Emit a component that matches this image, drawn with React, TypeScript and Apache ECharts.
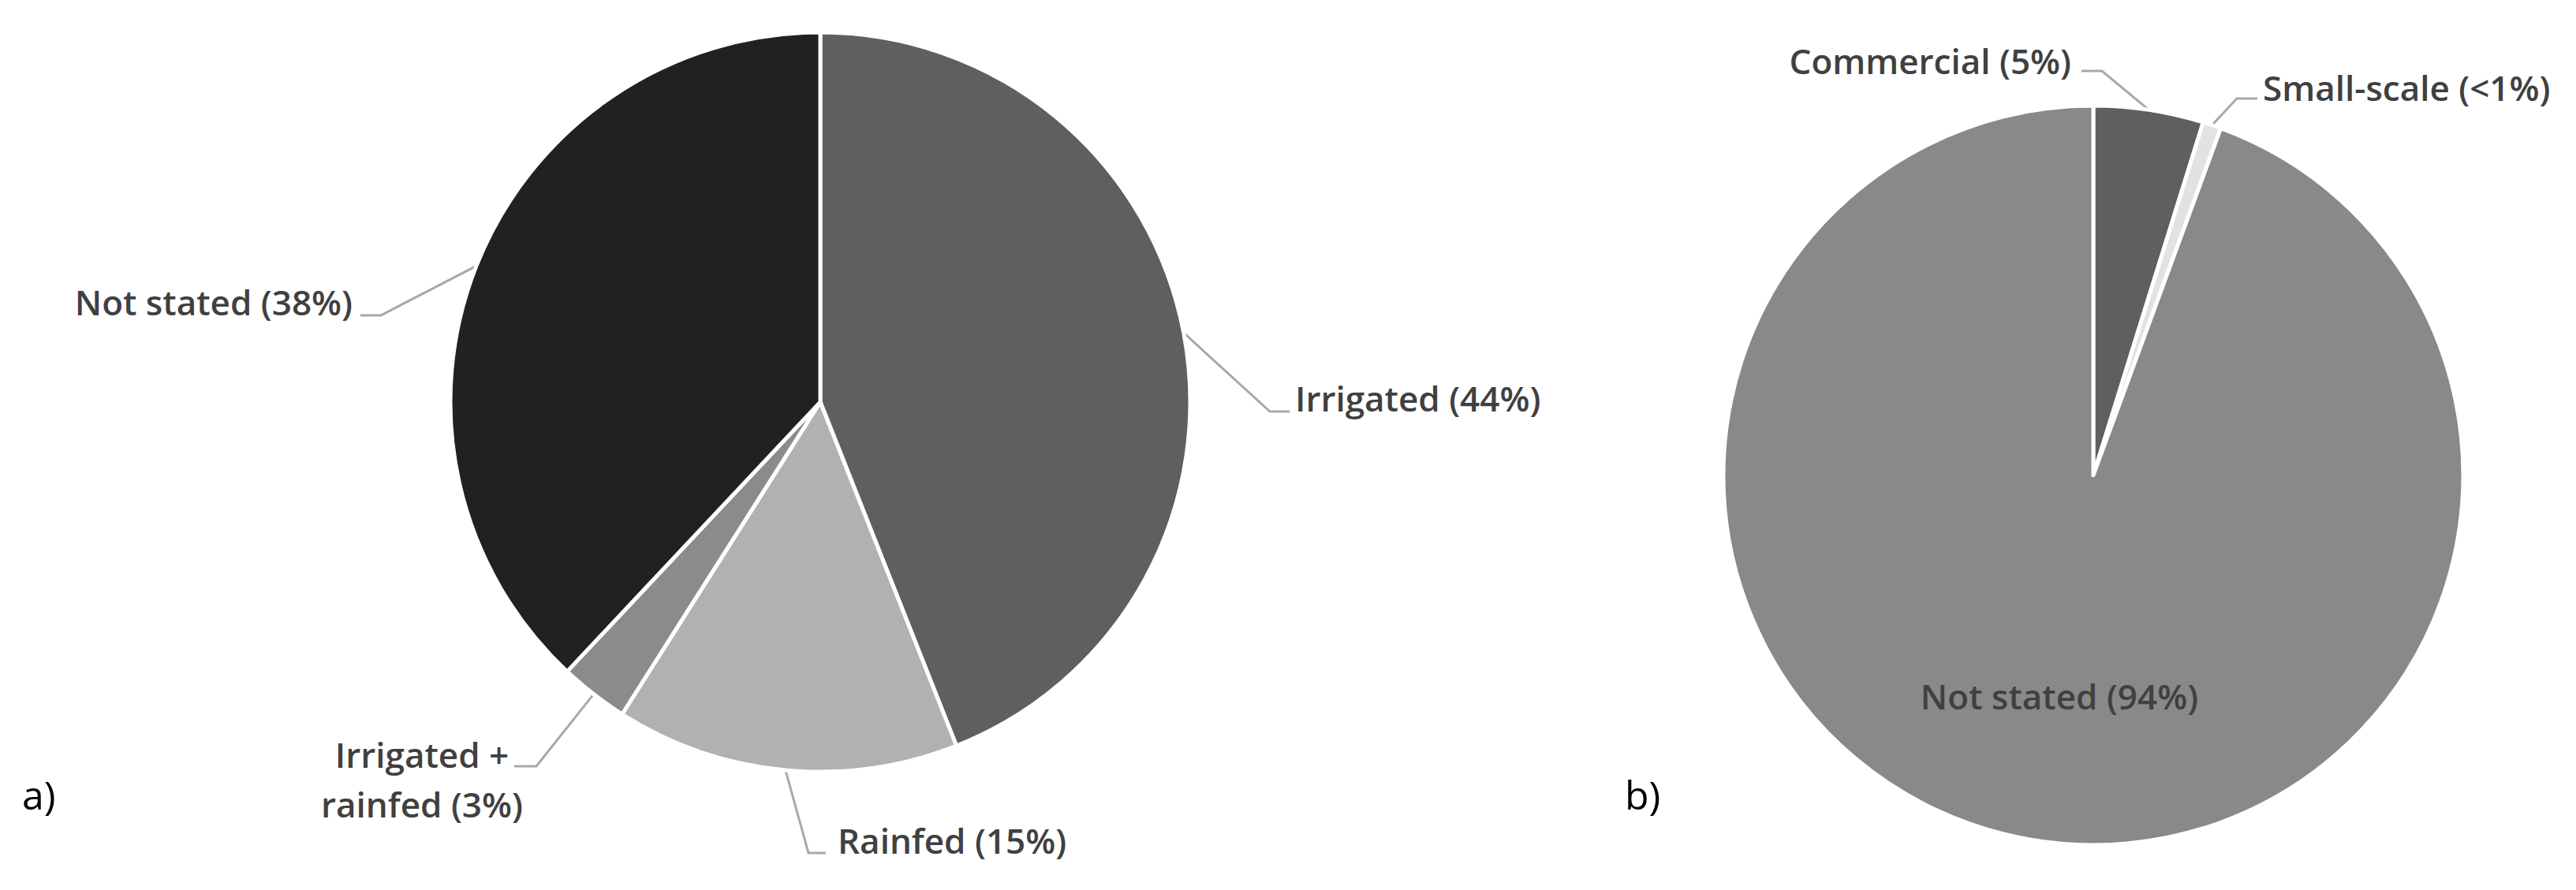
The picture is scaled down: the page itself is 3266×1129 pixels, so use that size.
import React, { useEffect, useRef } from 'react';
import * as echarts from 'echarts';

// ---- data ----
const leftCategories = ['Irrigated', 'Rainfed', 'Irrigated + rainfed', 'Not stated'];
const leftValues = [44, 15, 3, 38];
const rightCategories = ['Commercial', 'Small-scale', 'Not stated'];
const rightValues = [4.8, 0.8, 94.4];
const panelLabels = ['a)', 'b)'];

// ---- styles ----
const leftColors = ['#5f5f5f', '#b1b1b1', '#8b8b8b', '#212121'];
const rightColors = ['#5f5f5f', '#e2e2e2', '#898989'];
const LABEL_COLOR = '#404040';
const LEADER_COLOR = '#a8a8a8';
const FONT = "'Open Sans', 'Noto Sans', sans-serif";

// label placement per slice (chart pixel coordinates)
const leftLabelPlacement = [
  { x: 1642, y: 505, align: 'left', line: [[1610, 522], [1635, 522]] },
  { x: 1062, y: 1066, align: 'left', line: [[1025, 1082], [1047, 1082]] },
  { x: 535, y: 988, align: 'center', line: [[680, 972], [652, 972]] },
  { x: 447, y: 383, align: 'right', line: [[483, 400], [457, 400]] },
];
const rightLabelPlacement = [
  { x: 2626, y: 77, align: 'right', line: [[2665, 90], [2639, 90]] },
  { x: 2869, y: 111, align: 'left', line: [[2836, 125], [2862, 125]] },
  { x: 2611, y: 883, align: 'center', line: null as any },
];

const formatLabel = (p: any) => {
  const v = p.value as number;
  const pct = v < 1 ? '<1' : String(Math.round(v));
  return `${String(p.name).replace('+ ', '+\n')} (${pct}%)`;
};

const makeLayout = (placement: any[]) => (params: any) => {
  const pl = placement[params.dataIndex];
  if (!pl) return {};
  const res: any = { x: pl.x, y: pl.y, align: pl.align, verticalAlign: 'middle' };
  if (pl.line && params.labelLinePoints && params.labelLinePoints.length) {
    res.labelLinePoints = [params.labelLinePoints[0], ...pl.line];
  }
  return res;
};

const labelStyle = {
  show: true,
  position: 'outside',
  formatter: formatLabel,
  color: LABEL_COLOR,
  fontFamily: FONT,
  fontSize: 44,
  fontWeight: 600,
  lineHeight: 63,
};

export default function App() {
  const ref = useRef<HTMLDivElement>(null);
  useEffect(() => {
    if (!ref.current) return;
    const chart = echarts.init(ref.current, null, { renderer: 'svg' });
    chart.setOption({
      animation: false,
      backgroundColor: '#ffffff',
      graphic: [
        {
          type: 'text',
          left: 28,
          top: 983,
          style: { text: panelLabels[0], fontSize: 50, fontFamily: FONT, fill: '#000000' },
        },
        {
          type: 'text',
          left: 2060,
          top: 983,
          style: { text: panelLabels[1], fontSize: 50, fontFamily: FONT, fill: '#000000' },
        },
      ],
      series: [
        {
          type: 'pie',
          center: [1040, 510],
          radius: 469,
          startAngle: 90,
          clockwise: true,
          avoidLabelOverlap: false,
          emphasis: { disabled: true },
          itemStyle: { borderColor: '#ffffff', borderWidth: 5 },
          label: labelStyle,
          labelLine: { show: true, lineStyle: { color: LEADER_COLOR, width: 3 }, smooth: false },
          labelLayout: makeLayout(leftLabelPlacement),
          data: leftCategories.map((name, i) => ({
            name,
            value: leftValues[i],
            itemStyle: { color: leftColors[i] },
          })),
        },
        {
          type: 'pie',
          center: [2654, 603],
          radius: 469,
          startAngle: 90,
          clockwise: true,
          avoidLabelOverlap: false,
          emphasis: { disabled: true },
          itemStyle: { borderColor: '#ffffff', borderWidth: 5 },
          label: labelStyle,
          labelLine: { show: true, lineStyle: { color: LEADER_COLOR, width: 3 }, smooth: false },
          labelLayout: makeLayout(rightLabelPlacement),
          data: rightCategories.map((name, i) => {
            const item: any = {
              name,
              value: rightValues[i],
              itemStyle: { color: rightColors[i] },
            };
            if (i === rightCategories.length - 1) {
              item.label = { position: 'inside' };
              item.labelLine = { show: false };
            }
            return item;
          }),
        },
      ],
    });
    return () => chart.dispose();
  }, []);
  return (
    <div
      ref={ref}
      style={{ position: 'fixed', left: 0, top: 0, width: 3266, height: 1129 }}
    />
  );
}
